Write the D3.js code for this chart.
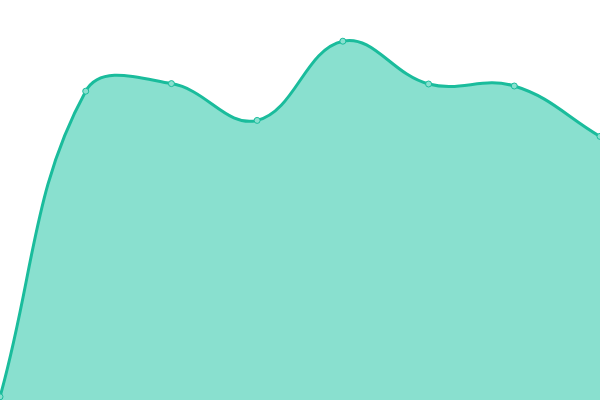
<!DOCTYPE html>
<html>
<head>
<meta charset="utf-8">
<script src="https://cdn.jsdelivr.net/npm/d3@7"></script>
<style>
html,body{margin:0;padding:0;background:#fff;overflow:hidden;}
svg{display:block;}
</style>
</head>
<body>
<svg id="chart" width="600" height="400"></svg>
<script>
const categories = ["1","2","3","4","5","6","7","8"];
const values = [0.8, 77.2, 79.1, 69.9, 89.7, 79.0, 78.5, 65.9];

const W = 600, H = 400;
const svg = d3.select("#chart");
const x = d3.scalePoint().domain(categories).range([0, W]);
const y = d3.scaleLinear().domain([0, 100]).range([H, 0]);

const data = categories.map((c, i) => ({c, v: values[i]}));

// Tension-based spline curve (distance-weighted control points), as a d3 curve factory
function TensionSpline(context, t) { this._context = context; this._t = t; }
TensionSpline.prototype = {
  areaStart() { this._line = 0; },
  areaEnd() { this._line = NaN; },
  lineStart() { this._pts = []; },
  point(px, py) { this._pts.push([+px, +py]); },
  lineEnd() {
    const p = this._pts, n = p.length, c = this._context, t = this._t;
    const clampX = v => Math.max(0, Math.min(W, v));
    const clampY = v => Math.max(0, Math.min(H, v));
    if (n) {
      if (this._line) c.lineTo(p[0][0], p[0][1]); else c.moveTo(p[0][0], p[0][1]);
      const ctrl = p.map((pt, i) => {
        const prev = p[i - 1] || pt, next = p[i + 1] || pt;
        const d01 = Math.hypot(pt[0] - prev[0], pt[1] - prev[1]);
        const d12 = Math.hypot(next[0] - pt[0], next[1] - pt[1]);
        let s01 = d01 / (d01 + d12), s12 = d12 / (d01 + d12);
        if (!isFinite(s01)) s01 = 0;
        if (!isFinite(s12)) s12 = 0;
        const fa = t * s01, fb = t * s12;
        const dx = next[0] - prev[0], dy = next[1] - prev[1];
        return {
          px: clampX(pt[0] - fa * dx), py: clampY(pt[1] - fa * dy),
          nx: clampX(pt[0] + fb * dx), ny: clampY(pt[1] + fb * dy)
        };
      });
      for (let i = 1; i < n; i++) {
        c.bezierCurveTo(ctrl[i - 1].nx, ctrl[i - 1].ny, ctrl[i].px, ctrl[i].py, p[i][0], p[i][1]);
      }
    }
    if (this._line || (this._line !== 0 && n === 1)) c.closePath();
    this._line = 1 - this._line;
  }
};
const curve = ctx => new TensionSpline(ctx, 0.4);

const area = d3.area().x(d => x(d.c)).y0(H).y1(d => y(d.v)).curve(curve);
const line = d3.line().x(d => x(d.c)).y(d => y(d.v)).curve(curve);

svg.append("path").datum(data).attr("d", area).attr("fill", "#89e0cf");
svg.append("path").datum(data).attr("d", line).attr("fill", "none")
  .attr("stroke", "#1abc9c").attr("stroke-width", 3);
svg.selectAll("circle").data(data).enter().append("circle")
  .attr("cx", d => x(d.c)).attr("cy", d => y(d.v)).attr("r", 3)
  .attr("fill", "#89e0cf").attr("stroke", "#1abc9c").attr("stroke-width", 1);
</script>
</body>
</html>
